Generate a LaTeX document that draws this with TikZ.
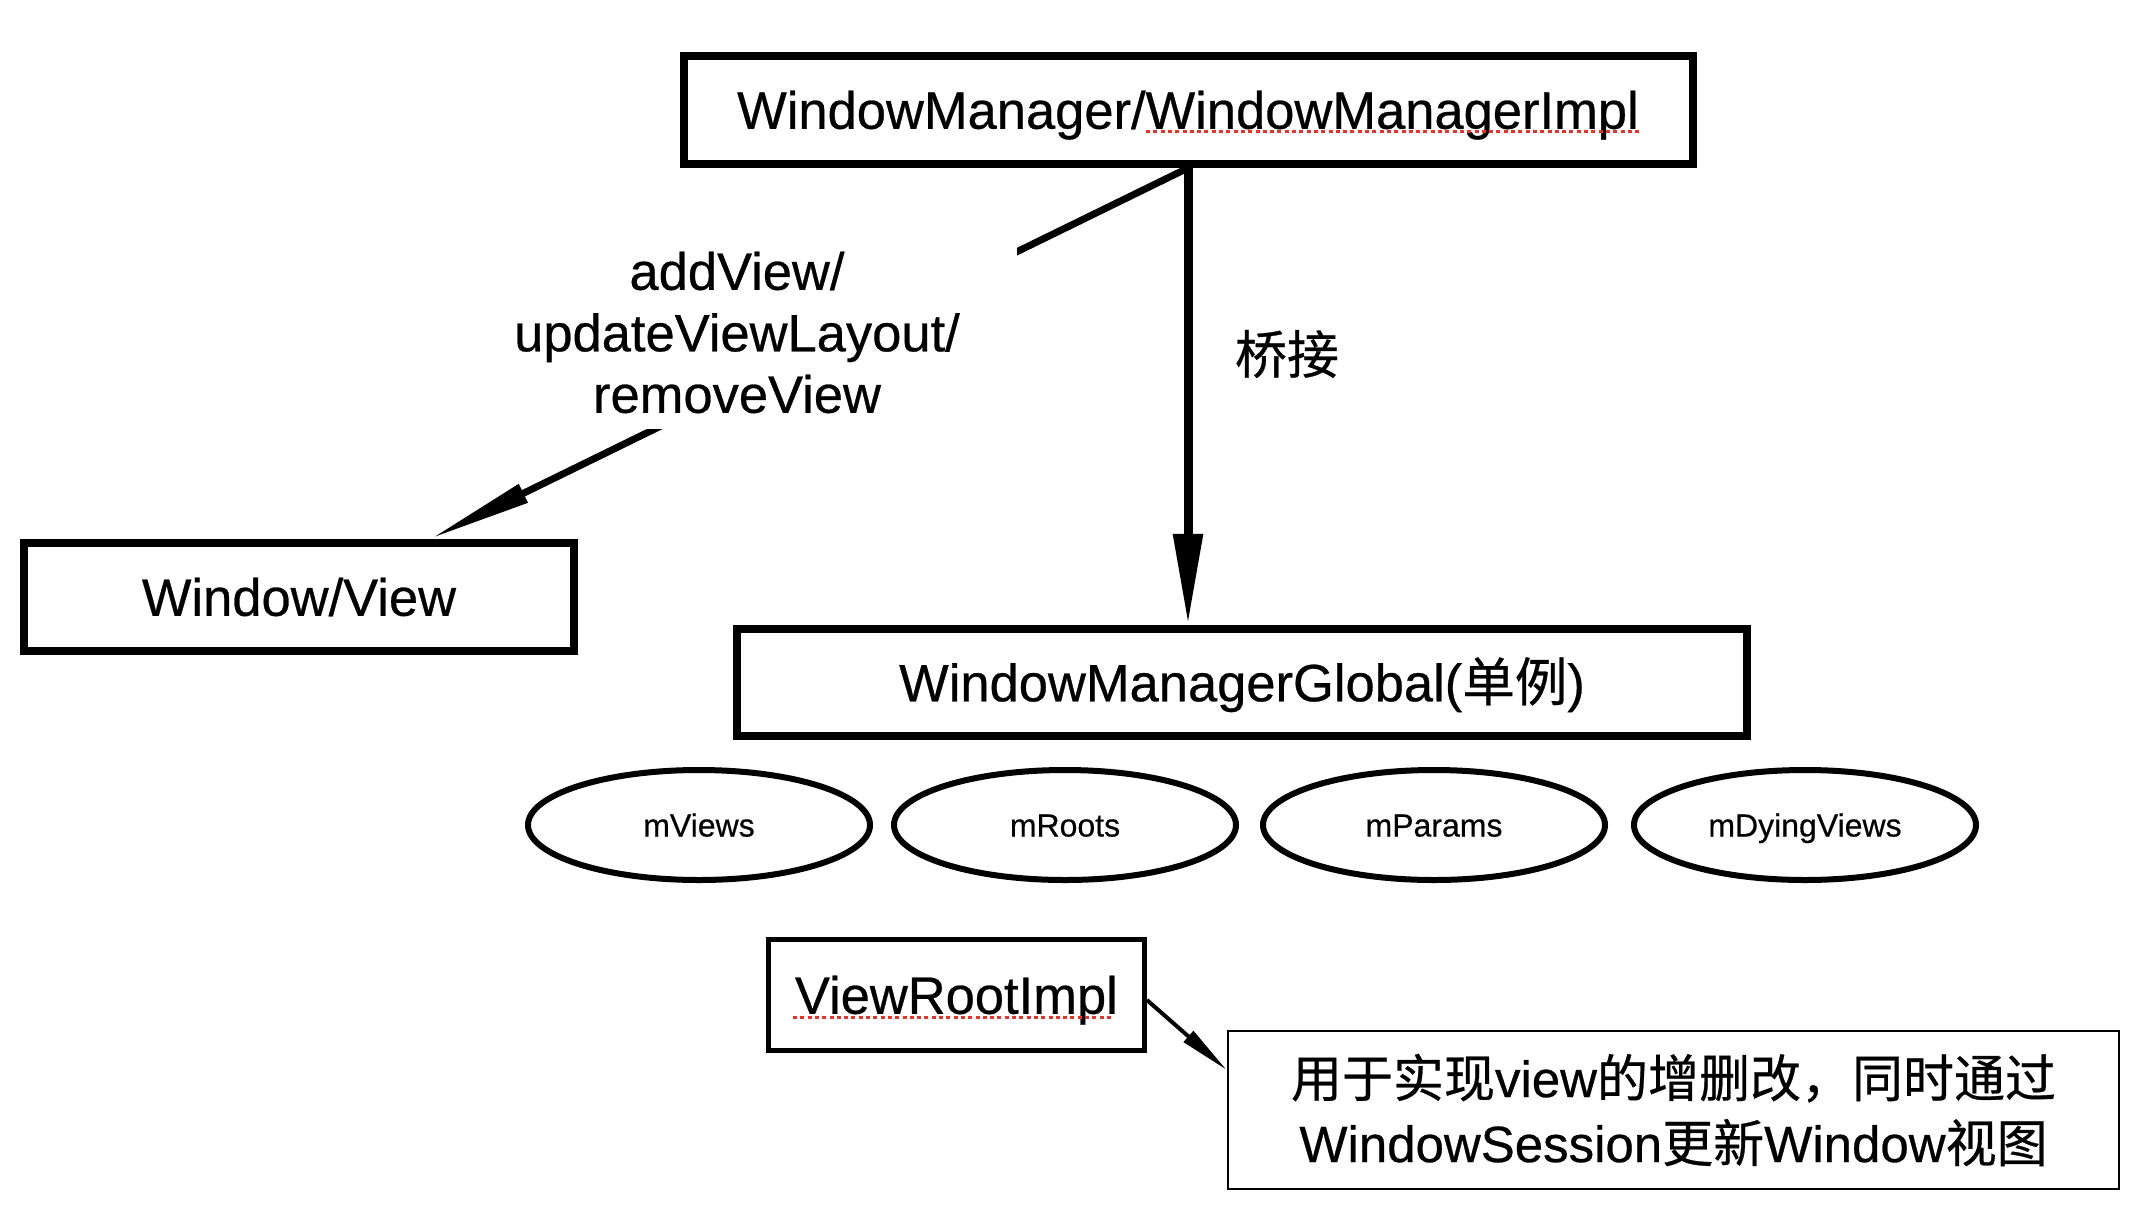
\documentclass[tikz,border=0pt]{standalone}
\usepackage{fontspec}
\setmainfont{Liberation Sans}[FakeBold=0.5]
\newfontfamily\cjk{Noto Sans CJK SC}[FakeBold=0.5]
\usetikzlibrary{arrows.meta,shapes.geometric}
\definecolor{spell}{RGB}{232,52,40}
\begin{document}
\begin{tikzpicture}[x=1pt,y=-1pt,
  big/.style={font=\fontsize{52.5}{61.5}\selectfont},
  box/.style={draw, rectangle, inner sep=0pt, big, text height=37.5pt, text depth=0pt},
  oval/.style={draw, ellipse, line width=6pt, minimum width=342pt, minimum height=110pt,
    inner sep=0pt, font=\fontsize{32}{38}\selectfont, text height=23pt, text depth=0pt},
  spellmark/.style={spell, line width=3pt, dash pattern=on 4pt off 3.3pt},
]
\useasboundingbox[fill=white] (0,0) rectangle (2144,1210);

% boxes
\node[box, line width=8pt, minimum width=1009pt, minimum height=108pt] (wm) at (1188,110)
  {WindowManager/WindowManagerImpl};
\node[box, line width=8pt, minimum width=550pt, minimum height=108pt] (wv) at (299,597)
  {Window/View};
\node[box, line width=8.5pt, minimum width=1010pt, minimum height=107pt] (wmg) at (1242,682.5)
  {WindowManagerGlobal({\cjk 单例})};

% ellipses
\node[oval] (mv) at (699,825) {mViews};
\node[oval] (mr) at (1065,825) {mRoots};
\node[oval] (mp) at (1434,825) {mParams};
\node[oval] (md) at (1805,825) {mDyingViews};

% ViewRootImpl and note
\node[box, line width=5pt, minimum width=376pt, minimum height=111.6pt] (vri) at (956.4,995)
  {ViewRootImpl};
\node[draw, rectangle, line width=2.5pt, minimum width=891pt, minimum height=158pt, inner sep=0pt,
  align=center, font=\fontsize{51}{65}\selectfont] (desc) at (1673.5,1110)
  {{\cjk 用于实现}view{\cjk 的增删改，同时通过}\\WindowSession{\cjk 更新}Window{\cjk 视图}};

% spell-check underlines
\draw[spellmark] (1146,131.5) -- (1640,131.5);
\draw[spellmark] (793,1017.5) -- (1112,1017.5);

% connectors
\draw[line width=9pt, -{Triangle[length=91pt,width=28pt]}] (wm.south) -- (wm.south |- wmg.north);
\node[font=\cjk\fontsize{52}{60}\selectfont] (qj) at (1287,354) {桥接};

\draw[line width=7pt, -{Triangle[length=104pt,width=19pt]}] (wm.south) -- ([xshift=131pt]wv.north);
\node[fill=white, minimum width=560pt, minimum height=193pt, inner sep=0pt, align=center, big] (lbl)
  at (737,332.5) {addView/\\updateViewLayout/\\removeView};

\draw[line width=4pt, -{Triangle[length=51pt,width=14pt]}] ([yshift=-5pt]vri.east) -- ([yshift=40pt]desc.west);
\end{tikzpicture}
\end{document}
